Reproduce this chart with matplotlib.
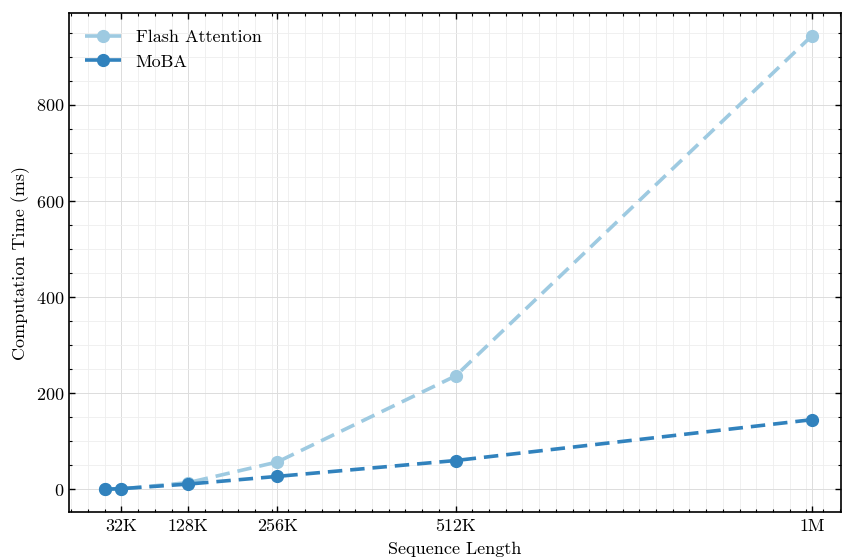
import matplotlib
matplotlib.use("Agg")
import matplotlib.pyplot as plt

seq_lengths = [8192, 32768, 131072, 262144, 524288, 1048576]
tick_positions = [32768, 131072, 262144, 524288, 1048576]
tick_labels = ["32K", "128K", "256K", "512K", "1M"]
flash_ms = [0.1, 1.0, 14.0, 57.0, 236.0, 944.0]
moba_ms = [0.3, 1.5, 11.0, 27.0, 60.0, 145.0]

plt.rcParams['font.family'] = ['cmr10', 'DejaVu Serif']
plt.rcParams['axes.formatter.use_mathtext'] = True
plt.rcParams['font.size'] = 13

fig = plt.figure(figsize=(8.43, 5.58), dpi=100)
ax = fig.add_axes([69/843, 1-512/558, (841-69)/843, (512-13)/558])

ax.plot(seq_lengths, flash_ms, linestyle='--', marker='o', color='#9ecae1',
        linewidth=2.6, markersize=8.5, label='Flash Attention', dashes=(4, 2.2))
ax.plot(seq_lengths, moba_ms, linestyle='--', marker='o', color='#3182bd',
        linewidth=2.6, markersize=8.5, label='MoBA', dashes=(4, 2.2))

ax.set_xlim(-44300, 1091200)
ax.set_xticks(tick_positions)
ax.set_xticklabels(tick_labels)
ax.minorticks_on()
ax.tick_params(which='both', direction='in', top=True, right=True)
ax.tick_params(which='major', length=4, width=1)
ax.tick_params(which='minor', length=2, width=0.8)
ax.tick_params(axis='x', which='major', pad=5)
for s in ax.spines.values():
    s.set_linewidth(1.2)
ax.grid(True, which='major', color='#dcdcdc', linewidth=0.7)
ax.grid(True, which='minor', color='#eeeeee', linewidth=0.6)
ax.set_axisbelow(True)

ax.set_xlabel('Sequence Length', labelpad=5)
ax.set_ylabel('Computation Time (ms)')
ax.legend(loc='upper left', frameon=False, fontsize=13)

fig.savefig('out.png', dpi=100)
